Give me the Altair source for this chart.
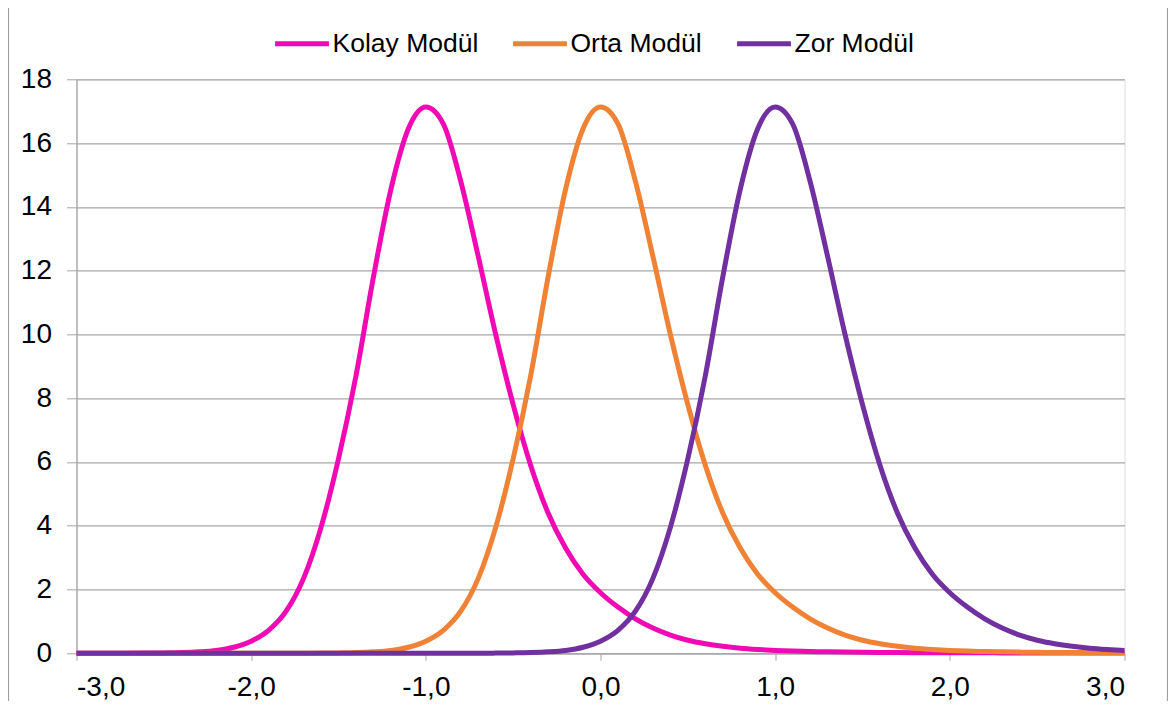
import altair as alt
import pandas as pd

theta = [-3.0, -2.9, -2.8, -2.7, -2.6, -2.5, -2.4, -2.3, -2.2, -2.1,
         -2.0, -1.9, -1.8, -1.7, -1.6, -1.5, -1.4, -1.3, -1.2, -1.1,
         -1.0, -0.9, -0.8, -0.7, -0.6, -0.5, -0.4, -0.3, -0.2, -0.1,
         0.0, 0.1, 0.2, 0.3, 0.4, 0.5, 0.6, 0.7, 0.8, 0.9,
         1.0, 1.1, 1.2, 1.3, 1.4, 1.5, 1.6, 1.7, 1.8, 1.9,
         2.0, 2.1, 2.2, 2.3, 2.4, 2.5, 2.6, 2.7, 2.8, 2.9, 3.0]

kolay = [0.0, 0.0, 0.001, 0.003, 0.006, 0.012, 0.022, 0.045, 0.09, 0.19,
         0.38, 0.72, 1.32, 2.35, 3.95, 6.1, 8.7, 11.8, 14.55, 16.45,
         17.13, 16.6, 14.8, 12.45, 10.0, 7.8, 5.9, 4.4, 3.3, 2.48,
         1.9, 1.45, 1.08, 0.79, 0.57, 0.41, 0.3, 0.22, 0.16, 0.12,
         0.09, 0.07, 0.055, 0.045, 0.037, 0.031, 0.027, 0.023, 0.02, 0.018,
         0.016, 0.015, 0.014, 0.013, 0.012, 0.011, 0.01, 0.01, 0.009, 0.009, 0.008]

orta = [0.0, 0.0, 0.0, 0.0, 0.0, 0.0, 0.0, 0.0, 0.0, 0.0,
        0.0, 0.0, 0.001, 0.003, 0.006, 0.012, 0.022, 0.045, 0.09, 0.19,
        0.38, 0.72, 1.32, 2.35, 3.95, 6.1, 8.7, 11.8, 14.55, 16.45,
        17.13, 16.6, 14.8, 12.45, 10.0, 7.8, 5.9, 4.4, 3.3, 2.48,
        1.9, 1.45, 1.08, 0.79, 0.57, 0.41, 0.3, 0.22, 0.16, 0.12,
        0.09, 0.07, 0.055, 0.045, 0.037, 0.031, 0.027, 0.023, 0.02, 0.018, 0.016]

zor = [0.0, 0.0, 0.0, 0.0, 0.0, 0.0, 0.0, 0.0, 0.0, 0.0,
       0.0, 0.0, 0.0, 0.0, 0.0, 0.0, 0.0, 0.0, 0.0, 0.0,
       0.0, 0.0, 0.001, 0.003, 0.006, 0.012, 0.022, 0.045, 0.09, 0.19,
       0.38, 0.72, 1.32, 2.35, 3.95, 6.1, 8.7, 11.8, 14.55, 16.45,
       17.13, 16.6, 14.8, 12.45, 10.0, 7.8, 5.9, 4.4, 3.3, 2.48,
       1.9, 1.45, 1.08, 0.79, 0.57, 0.41, 0.3, 0.22, 0.16, 0.12, 0.09]

series_names = ["Kolay Modül", "Orta Modül", "Zor Modül"]
series_colors = ["#F00AB4", "#EF8234", "#7030A0"]
y_ticks = [0, 2, 4, 6, 8, 10, 12, 14, 16, 18]
x_ticks = [-3, -2, -1, 0, 1, 2, 3]

rows = []
for name, vals in zip(series_names, [kolay, orta, zor]):
    assert len(vals) == len(theta)
    for t, v in zip(theta, vals):
        rows.append({"theta": t, "value": v, "series": name})
df = pd.DataFrame(rows)

FONT = "Liberation Sans"
GRID = "#A6A6A6"

lines = alt.Chart(df).mark_line(strokeWidth=5, interpolate="monotone", clip=False).encode(
    x=alt.X("theta:Q",
            scale=alt.Scale(domain=[-3, 3], nice=False, zero=False),
            axis=alt.Axis(values=x_ticks, title=None, grid=False,
                          labelExpr="(datum.value < 0 ? '-' : '') + replace(format(abs(datum.value), '.1f'), '.', ',')",
                          tickSize=7, tickColor=GRID, domainColor=GRID, domainWidth=1.3,
                          labelFont=FONT, labelFontSize=28, labelColor="#000000",
                          labelPadding=13)),
    y=alt.Y("value:Q",
            scale=alt.Scale(domain=[0, 18], nice=False),
            axis=alt.Axis(values=y_ticks, title=None, grid=True, gridColor=GRID, gridWidth=1.3,
                          format="d", tickSize=10, tickColor=GRID, domainColor=GRID, domainWidth=1.3,
                          labelFont=FONT, labelFontSize=28, labelColor="#000000",
                          labelPadding=15)),
    color=alt.Color("series:N",
                    scale=alt.Scale(domain=series_names, range=series_colors),
                    legend=alt.Legend(title=None, orient="none", direction="horizontal",
                                      legendX=196, legendY=-65,
                                      symbolType="stroke", symbolStrokeWidth=5, symbolSize=2900,
                                      labelFont=FONT, labelFontSize=26.5, labelColor="#000000",
                                      labelOffset=1, columnPadding=24)),
    order=alt.Order("series:N"),
)

frame = alt.Chart(pd.DataFrame({"k": [0]})).mark_rect(
    fill="transparent", stroke="#A0A0A0", strokeWidth=1.2
).encode(
    x=alt.value(-68), x2=alt.value(1091), y=alt.value(-72), y2=alt.value(700)
)

chart = alt.layer(frame, lines).properties(
    width=1048, height=574,
    autosize=alt.AutoSizeParams(type="none"),
    padding={"left": 68.5, "top": 71.3, "right": 43.5, "bottom": 47.7},
).configure_view(stroke=None).configure(background="white")

chart.save("out.html", embed_options={"renderer": "svg", "actions": False})
